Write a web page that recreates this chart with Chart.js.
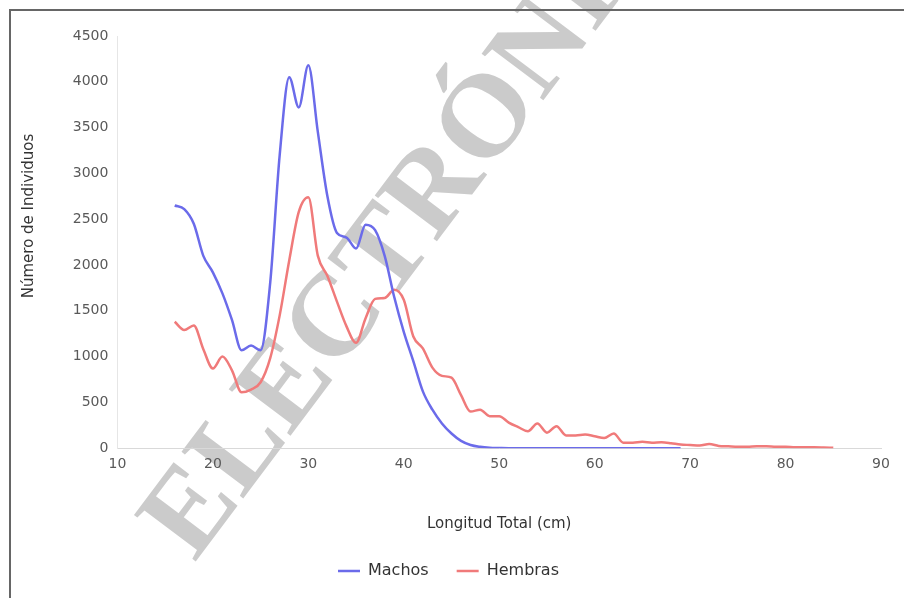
<!DOCTYPE html>
<html>
<head>
<meta charset="utf-8">
<script src="https://cdn.jsdelivr.net/npm/chart.js@4"></script>
<style>
  html, body { margin: 0; padding: 0; background: #fff; }
  #wrap { position: relative; width: 904px; height: 598px; overflow: hidden; }
  #frame {
    position: absolute; left: 9px; top: 9px; width: 1000px; height: 1000px;
    border-left: 2px solid #666; border-top: 2px solid #666;
  }
  canvas { position: absolute; left: 0; top: 0; }
</style>
</head>
<body>
<div id="wrap">
  <canvas id="chart" width="904" height="598"></canvas>
  <div id="frame"></div>
</div>
<script>
// longitud total (cm)
const machosLengths = [16, 17, 18, 19, 20, 21, 22, 23, 24, 25, 26, 27, 28, 29, 30, 31, 32, 33, 34, 35,
  36, 37, 38, 39, 40, 41, 42, 43, 44, 45, 46, 47, 48, 49, 50, 51, 52, 53, 54, 55,
  56, 57, 58, 59, 60, 61, 62, 63, 64, 65, 66, 67, 68, 69];
const machosCounts = [2650, 2610, 2450, 2100, 1920, 1690, 1400, 1070, 1120, 1070, 1800, 3200, 4050, 3720, 4180, 3450, 2750, 2350, 2300, 2180,
  2440, 2380, 2100, 1650, 1270, 950, 620, 420, 270, 160, 80, 35, 15, 5, 2, 0, 0, 0, 0, 0,
  0, 0, 0, 0, 0, 0, 0, 0, 0, 0, 0, 0, 0, 0];

const hembrasLengths = [16, 17, 18, 19, 20, 21, 22, 23, 24, 25, 26, 27, 28, 29, 30, 31, 32, 33, 34, 35,
  36, 37, 38, 39, 40, 41, 42, 43, 44, 45, 46, 47, 48, 49, 50, 51, 52, 53, 54, 55,
  56, 57, 58, 59, 60, 61, 62, 63, 64, 65, 66, 67, 68, 69, 70, 71, 72, 73, 74, 75,
  76, 77, 78, 79, 80, 81, 82, 83, 84, 85];
const hembrasCounts = [1380, 1290, 1340, 1080, 870, 1000, 850, 610, 640, 720, 980, 1450, 2050, 2580, 2740, 2100, 1880, 1600, 1330, 1150,
  1420, 1630, 1640, 1730, 1620, 1220, 1090, 880, 790, 770, 580, 400, 420, 350, 350, 280, 230, 185, 270, 170,
  240, 140, 140, 150, 130, 110, 160, 60, 60, 70, 60, 65, 55, 40, 35, 30, 45, 25, 20, 15,
  15, 20, 20, 15, 15, 10, 10, 10, 8, 5];

const xTicks = [10, 20, 30, 40, 50, 60, 70, 80, 90];
const yTicks = [0, 500, 1000, 1500, 2000, 2500, 3000, 3500, 4000, 4500];
const yTitle = 'Número de Individuos';

const toPoints = (xs, ys) => xs.map((x, i) => ({ x: x, y: ys[i] }));

// grey diagonal stamp behind the chart
const watermark = {
  id: 'watermark',
  beforeDraw(chart) {
    const ctx = chart.ctx;
    ctx.save();
    ctx.font = 'bold 118px "Liberation Serif", "DejaVu Serif", serif';
    const offset = ctx.measureText('ELE').width + ctx.measureText('C').width / 2;
    ctx.translate(338, 322);
    ctx.rotate(-53 * Math.PI / 180);
    ctx.fillStyle = '#cbcbcb';
    ctx.textBaseline = 'middle';
    ctx.fillText('ELECTRÓNICA', -offset, 0);
    ctx.restore();
  },
  // y title sits a bit above the plot's middle, like the original
  afterDraw(chart) {
    const ctx = chart.ctx;
    ctx.save();
    ctx.font = '15px "DejaVu Sans", sans-serif';
    ctx.fillStyle = '#333';
    ctx.textAlign = 'center';
    ctx.textBaseline = 'middle';
    ctx.translate(29, 216);
    ctx.rotate(-Math.PI / 2);
    ctx.fillText(yTitle, 0, 0);
    ctx.restore();
  }
};

Chart.defaults.font.family = '"DejaVu Sans", "Liberation Sans", sans-serif';
Chart.defaults.font.size = 14;
Chart.defaults.color = '#595959';

new Chart(document.getElementById('chart'), {
  type: 'line',
  data: {
    datasets: [
      {
        label: 'Machos',
        data: toPoints(machosLengths, machosCounts),
        borderColor: '#6b6bea',
        backgroundColor: '#6b6bea',
        borderWidth: 2.5,
        pointRadius: 0,
        pointStyle: 'line',
        cubicInterpolationMode: 'monotone',
      },
      {
        label: 'Hembras',
        data: toPoints(hembrasLengths, hembrasCounts),
        borderColor: '#f07a7a',
        backgroundColor: '#f07a7a',
        borderWidth: 2.5,
        pointRadius: 0,
        pointStyle: 'line',
        cubicInterpolationMode: 'monotone',
      },
    ],
  },
  options: {
    responsive: false,
    animation: false,
    layout: { padding: { left: 16, right: 23, top: 36, bottom: 9 } },
    plugins: {
      tooltip: { enabled: false },
      legend: {
        position: 'bottom',
        labels: {
          usePointStyle: true,
          pointStyleWidth: 22,
          boxHeight: 10,
          padding: 28,
          color: '#333',
          font: { size: 16 },
        },
      },
    },
    scales: {
      x: {
        type: 'linear',
        min: 10,
        max: 90,
        afterBuildTicks: (axis) => { axis.ticks = xTicks.map((v) => ({ value: v })); },
        grid: { display: false, drawTicks: false },
        border: { color: '#d9d9d9' },
        ticks: { padding: 8, maxRotation: 0, callback: (v) => String(v) },
        title: { display: true, text: 'Longitud Total (cm)', padding: { top: 34, bottom: 2 }, color: '#333', font: { size: 15 } },
      },
      y: {
        min: 0,
        max: 4500,
        afterBuildTicks: (axis) => { axis.ticks = yTicks.map((v) => ({ value: v })); },
        grid: { display: false, drawTicks: false },
        border: { color: '#e6e6e6' },
        ticks: { padding: 9, callback: (v) => String(v) },
        // space only; the text itself is drawn by the plugin
        title: { display: true, text: yTitle, padding: { bottom: 27 }, color: 'rgba(0,0,0,0)' },
      },
    },
  },
  plugins: [watermark],
});
</script>
</body>
</html>
